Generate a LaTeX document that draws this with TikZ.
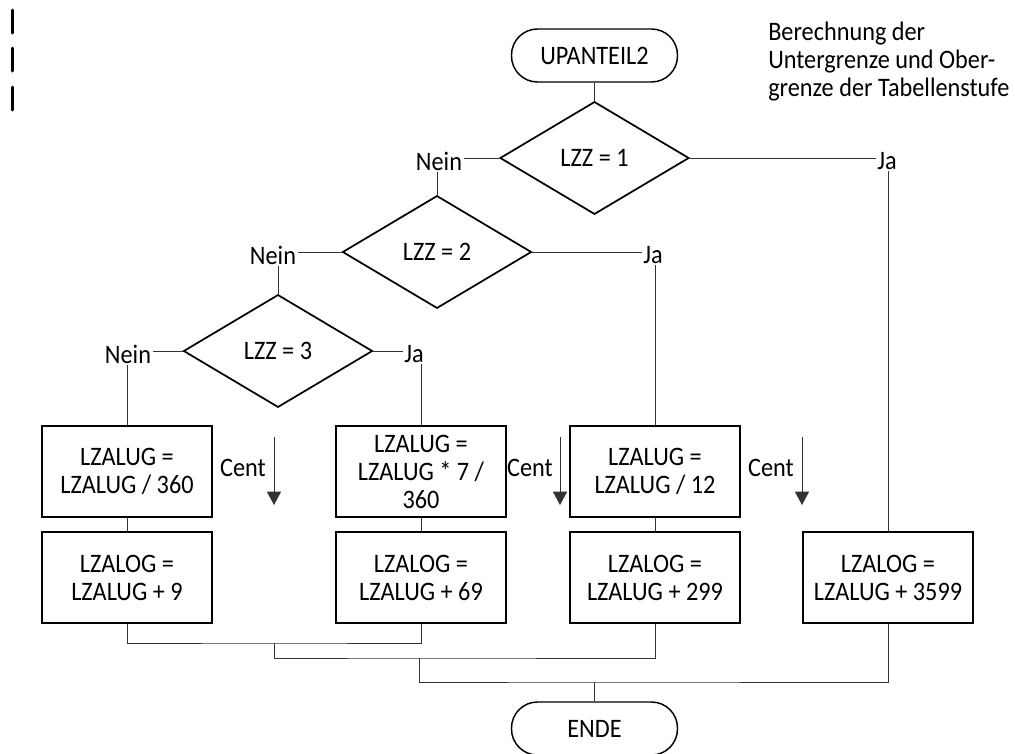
\documentclass[tikz,border=0pt]{standalone}
\usepackage{fontspec}
\setmainfont{Carlito}[FakeStretch=0.91]
\usetikzlibrary{shapes,arrows.meta,calc}

\begin{document}
\begin{tikzpicture}[x=0.75pt,y=-0.75pt,
	every node/.style={font=\fontsize{20pt}{21pt}\selectfont},
	term/.style={draw,line width=1.1pt,rounded corners=19.5pt,minimum width=124.5pt,minimum height=39.75pt},
	proc/.style={draw,line width=1.3pt,align=center,minimum width=127.5pt,minimum height=68.25pt,inner sep=0pt},
	cond/.style={draw,diamond,line width=1.3pt,minimum width=141.75pt,minimum height=84.5pt,inner sep=0pt},
	lbl/.style={inner sep=1pt},
	conn/.style={draw=black!80,line width=0.75pt},
	cent/.style={black!80,line width=0.75pt,-{Triangle[width=10.5pt,length=10pt]}}]
				\useasboundingbox (0,0) rectangle (1015,754);
				\foreach \y in {10,48,87}
					\draw[line width=2.25pt,line cap=round] (12,\y) -- ++(0,23);
				\node[anchor=north west,align=left,inner sep=0pt] (note) at (768,22) {Berechnung der\\Untergrenze und Ober-\\grenze der Tabellenstufe};
				\node[term] (start) at (594.5,55.5) {UPANTEIL2};
				\node[cond] (lzz1) at (594.5,158) {LZZ = 1};
				\node[cond] (lzz2) at (437,252) {LZZ = 2};
				\node[cond] (lzz3) at (278,351) {LZZ = 3};
				\node[lbl] (nein1) at (439,161) {Nein};
				\node[lbl] (ja1) at (887,161) {Ja};
				\node[lbl] (nein2) at (273,255) {Nein};
				\node[lbl] (ja2) at (653,255) {Ja};
				\node[lbl] (nein3) at (128,354) {Nein};
				\node[lbl] (ja3) at (414,354) {Ja};
				\node[proc] (ug1) at (127,471.5) {LZALUG =\\LZALUG / 360};
				\node[proc] (og1) at (127,577.5) {LZALOG =\\LZALUG + 9};
				\node[proc] (ug2) at (421,471.5) {LZALUG =\\LZALUG * 7 /\\360};
				\node[proc] (og2) at (421,577.5) {LZALOG =\\LZALUG + 69};
				\node[proc] (ug3) at (655,471.5) {LZALUG =\\LZALUG / 12};
				\node[proc] (og3) at (655,577.5) {LZALOG =\\LZALUG + 299};
				\node[proc] (og4) at (888,577.5) {LZALOG =\\LZALUG + 3599};
				\node[term] (ende) at (594.5,728.5) {ENDE};
				\node (cent1) at (243,468) {Cent};
				\node (cent2) at (530,468) {Cent};
				\node (cent3) at (771,468) {Cent};
				\coordinate (c1top) at (274,437);
				\coordinate (c1bot) at (274,505);
				\coordinate (c2top) at (560,437);
				\coordinate (c2bot) at (560,505);
				\coordinate (c3top) at (802,437);
				\coordinate (c3bot) at (802,505);
				\coordinate (m1) at (274,643);
				\coordinate (m2) at (419,658);
				\coordinate (m3) at (594.5,682);
				\draw[conn] (start) -- (lzz1);
				\draw[conn] (lzz1.west) -- (lzz1.west -| nein1.east);
				\draw[conn] (lzz1.east) -- (lzz1.east -| ja1.west);
				\draw[conn] (lzz2.north) -- (lzz2.north |- nein1.south);
				\draw[conn] (og4.north) -- (og4.north |- ja1.south);
				\draw[conn] (lzz2.west) -- (lzz2.west -| nein2.east);
				\draw[conn] (lzz2.east) -- (lzz2.east -| ja2.west);
				\draw[conn] (lzz3.north) -- (lzz3.north |- nein2.south);
				\draw[conn] (ug3.north) -- (ug3.north |- ja2.south);
				\draw[conn] (lzz3.west) -- (lzz3.west -| nein3.east);
				\draw[conn] (lzz3.east) -- (lzz3.east -| ja3.west);
				\draw[conn] (ug1.north) -- (ug1.north |- nein3.south);
				\draw[conn] (ug2.north) -- (ug2.north |- ja3.south);
				\draw[conn] (ug1) -- (og1);
				\draw[conn] (ug2) -- (og2);
				\draw[conn] (ug3) -- (og3);
				\draw[cent] (c1top) -- (c1bot);
				\draw[cent] (c2top) -- (c2bot);
				\draw[cent] (c3top) -- (c3bot);
				\draw[conn] (og1.south) |- (m1) -| (og2.south);
				\draw[conn] (m1) |- (m2) -| (og3.south);
				\draw[conn] (m2) |- (m3) -| (og4.south);
				\draw[conn] (m3) -- (ende);
			\end{tikzpicture}
\end{document}
